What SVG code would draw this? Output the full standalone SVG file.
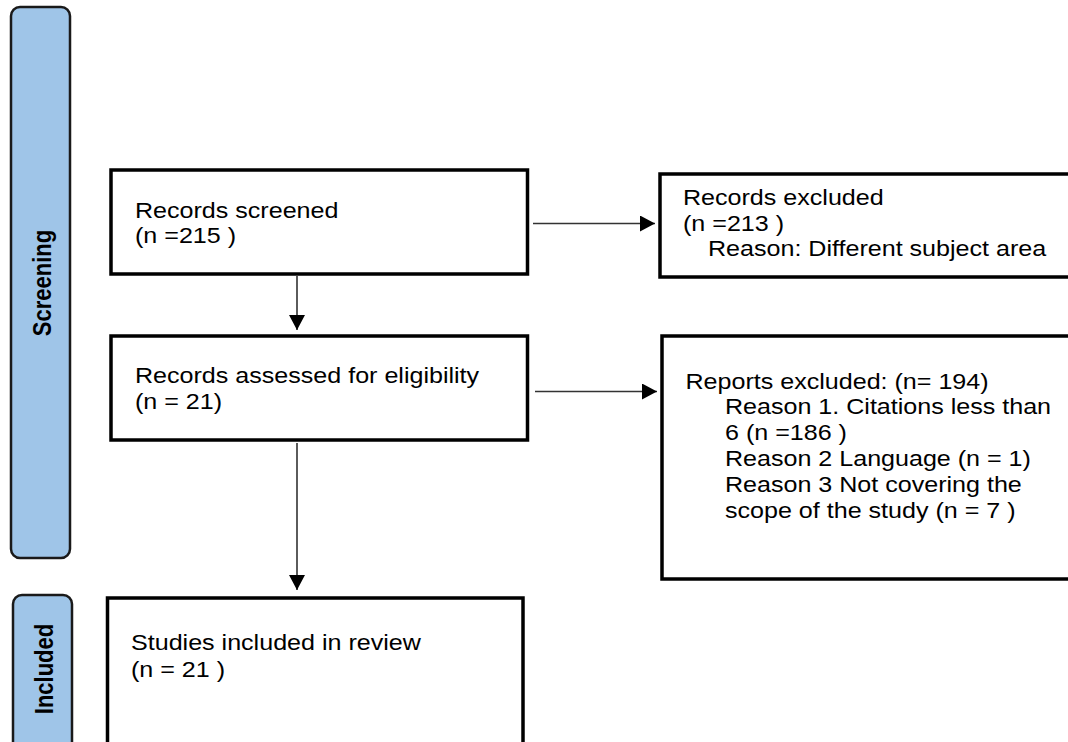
<svg xmlns="http://www.w3.org/2000/svg" width="1068" height="742" viewBox="0 0 1068 742">
<defs>
<style>
.bar{fill:#9fc5e8;stroke:#1a1a1a;stroke-width:2.5}
.box{fill:#ffffff;stroke:#000000;stroke-width:3.5}
.t{font-family:"Liberation Sans",Arial,sans-serif;font-size:22px;fill:#000}
.lab{font-family:"Liberation Sans",Arial,sans-serif;font-size:22px;font-weight:bold;fill:#000}
.con{stroke:#333333;stroke-width:1.6;fill:none}
</style>
<marker id="ah" markerUnits="userSpaceOnUse" markerWidth="16" markerHeight="17" refX="15" refY="8" orient="auto">
<path d="M0,0 L15,8 L0,16 Z" fill="#000"/>
</marker>
</defs>
<rect width="1068" height="742" fill="#ffffff"/>
<g id="screening-bar">
<rect class="bar" x="11" y="7" width="59" height="551" rx="9" ry="9"/>
<text class="lab" text-anchor="middle" transform="translate(51,283) scale(1.14,1) rotate(-90)">Screening</text>
</g>
<g id="included-bar">
<rect class="bar" x="13" y="595" width="59" height="170" rx="9" ry="9"/>
<text class="lab" text-anchor="middle" transform="translate(53,669) scale(1.14,1) rotate(-90)">Included</text>
</g>
<g id="connectors">
<line class="con" x1="297" y1="276" x2="297" y2="330" marker-end="url(#ah)"/>
<line class="con" x1="533" y1="223.5" x2="655" y2="223.5" marker-end="url(#ah)"/>
<line class="con" x1="535" y1="391.5" x2="657" y2="391.5" marker-end="url(#ah)"/>
<line class="con" x1="297" y1="443" x2="297" y2="590" marker-end="url(#ah)"/>
</g>
<g id="records-screened">
<rect class="box" x="111" y="170" width="416.5" height="104"/>
<text class="t" transform="translate(135,217.5) scale(1.14,1)">Records screened</text>
<text class="t" transform="translate(135,243) scale(1.14,1)">(n =215 )</text>
</g>
<g id="records-excluded">
<rect class="box" x="660" y="174" width="420" height="103"/>
<text class="t" transform="translate(683,205) scale(1.14,1)">Records excluded</text>
<text class="t" transform="translate(683,230.5) scale(1.14,1)">(n =213 )</text>
<text class="t" transform="translate(708,256) scale(1.14,1)">Reason: Different subject area</text>
</g>
<g id="records-assessed">
<rect class="box" x="111" y="336" width="416.5" height="104"/>
<text class="t" transform="translate(135,382.5) scale(1.14,1)">Records assessed for eligibility</text>
<text class="t" transform="translate(135,408.5) scale(1.14,1)">(n = 21)</text>
</g>
<g id="reports-excluded">
<rect class="box" x="662" y="336" width="420" height="243"/>
<text class="t" transform="translate(685.5,388.5) scale(1.14,1)">Reports excluded: (n= 194)</text>
<text class="t" transform="translate(725,414) scale(1.14,1)">Reason 1. Citations less than</text>
<text class="t" transform="translate(725,440) scale(1.14,1)">6 (n =186 )</text>
<text class="t" transform="translate(725,466) scale(1.14,1)">Reason 2 Language (n = 1)</text>
<text class="t" transform="translate(725,492) scale(1.14,1)">Reason 3 Not covering the</text>
<text class="t" transform="translate(725,518) scale(1.14,1)">scope of the study (n = 7 )</text>
</g>
<g id="studies-included">
<rect class="box" x="107.5" y="598" width="415.5" height="160"/>
<text class="t" transform="translate(131,650) scale(1.14,1)">Studies included in review</text>
<text class="t" transform="translate(131,676.5) scale(1.14,1)">(n = 21 )</text>
</g>
</svg>
